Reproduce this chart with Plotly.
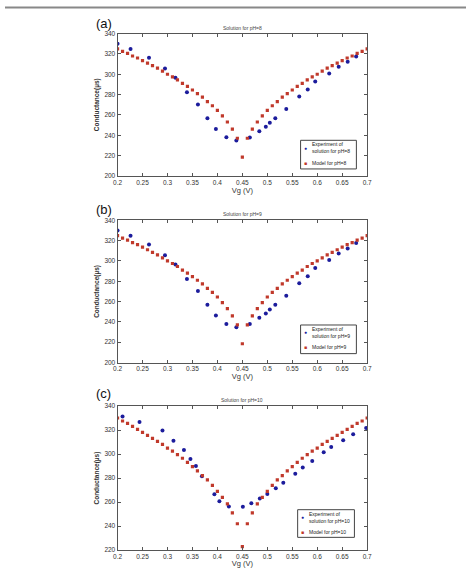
import plotly.graph_objects as go

# ---------------- data ----------------
vg_model = [0.20, 0.21, 0.22, 0.23, 0.24, 0.25, 0.26, 0.27, 0.28, 0.29,
            0.30, 0.31, 0.32, 0.33, 0.34, 0.35, 0.36, 0.37, 0.38, 0.39,
            0.40, 0.41, 0.42, 0.43, 0.44, 0.45, 0.46, 0.47, 0.48, 0.49,
            0.50, 0.51, 0.52, 0.53, 0.54, 0.55, 0.56, 0.57, 0.58, 0.59,
            0.60, 0.61, 0.62, 0.63, 0.64, 0.65, 0.66, 0.67, 0.68, 0.69, 0.70]

model_ph8 = [325, 322.5, 320.5, 318, 316, 313.5, 311, 308.5, 306, 303,
             300, 297.5, 294.5, 291, 288, 284.5, 281, 277.5, 273, 269,
             264.5, 259, 253, 246, 237, 218.5, 237, 246, 253, 259,
             264.5, 269, 273, 277.5, 281, 284.5, 288, 291, 294.5, 297.5,
             300, 303, 306, 308.5, 311, 313.5, 316, 318, 320.5, 322.5, 325]

model_ph9 = [325, 322.5, 320.5, 318, 316, 313.5, 311, 308.5, 306, 303,
             300, 297.5, 294.5, 291, 288, 284.5, 281, 277.5, 273, 269,
             264.5, 259, 253, 246, 237, 218.5, 237, 246, 253, 259,
             264.5, 269, 273, 277.5, 281, 284.5, 288, 291, 294.5, 297.5,
             300, 303, 306, 308.5, 311, 313.5, 316, 318, 320.5, 322.5, 325]

model_ph10 = [330, 327.5, 325.5, 323, 320.5, 318, 315.5, 313, 310.5, 308,
              305, 302.5, 299.5, 296.5, 293, 289.5, 286, 282, 278.5, 274,
              269, 264, 258.5, 251, 242, 223, 242, 251, 258.5, 264,
              269, 274, 278.5, 282, 286, 289.5, 293, 296.5, 299.5, 302.5,
              305, 308, 310.5, 313, 315.5, 318, 320.5, 323, 325.5, 327.5, 330]

vg_exp_89 = [0.200, 0.226, 0.263, 0.295, 0.316, 0.339, 0.361, 0.380, 0.397,
             0.418, 0.438, 0.465, 0.484, 0.497, 0.505, 0.516, 0.538, 0.564,
             0.581, 0.596, 0.624, 0.643, 0.661, 0.678]
exp_ph8 = [330, 324.8, 316.3, 305.7, 296.5, 282.3, 270.3, 256.8, 246.2,
           238, 234.8, 237.8, 244, 248.3, 252.2, 256.8, 265.8, 278,
           285, 293, 300.8, 307.4, 312.2, 317.6]
exp_ph9 = [330, 324.8, 316.3, 305.7, 296.5, 282.3, 270.3, 256.8, 246.2,
           238, 234.8, 237.8, 244, 248.3, 252.2, 256.8, 265.8, 278,
           285, 293, 300.8, 307.4, 312.2, 317.6]

vg_exp_10 = [0.210, 0.244, 0.290, 0.312, 0.333, 0.346, 0.357, 0.369, 0.394,
             0.404, 0.423, 0.451, 0.468, 0.485, 0.500, 0.517, 0.532, 0.556,
             0.571, 0.590, 0.613, 0.628, 0.652, 0.672, 0.698]
exp_ph10 = [331.2, 326.6, 319.5, 311, 303.3, 295.9, 290.1, 281.5, 266.6,
            260.8, 256.4, 256.2, 259, 263, 266.8, 271.6, 276.2, 283.6,
            288.8, 294.2, 301.4, 305.8, 311.4, 316.5, 321.6]

titles = ["Solution for pH=8", "Solution for pH=9", "Solution for pH=10"]
panel_labels = ["(a)", "(b)", "(c)"]
exp_names = ["Experiment of<br>solution for pH=8", "Experiment of<br>solution for pH=9",
             "Experiment of<br>solution for pH=10"]
model_names = ["Model for pH=8", "Model for pH=9", "Model for pH=10"]
x_ticks = [0.2, 0.25, 0.3, 0.35, 0.4, 0.45, 0.5, 0.55, 0.6, 0.65, 0.7]
y_ticks_89 = [200, 220, 240, 260, 280, 300, 320, 340]
y_ticks_10 = [220, 240, 260, 280, 300, 320, 340]

# ---------------- layout geometry ----------------
W, H = 471, 568
x_dom = [115 / W, 370 / W]
y_doms = [[1 - 174 / H, 1 - 30 / H], [1 - 363 / H, 1 - 219 / H], [1 - 553 / H, 1 - 407 / H]]
y_ranges = [[200, 340], [200, 340], [220, 340]]
y_ticks = [y_ticks_89, y_ticks_89, y_ticks_10]
# legend boxes (left, top, right, bottom) in px
leg_box = [(302, 138, 359, 167), (302, 325, 359, 354), (299, 512, 357, 540)]
label_top = [10, 198, 385]

exp_x = [vg_exp_89, vg_exp_89, vg_exp_10]
exp_y = [exp_ph8, exp_ph9, exp_ph10]
mod_y = [model_ph8, model_ph9, model_ph10]

BLUE = "#1c1c9c"
RED = "#c0392b"
AX = "#555555"


def px(x):
    return x / W


def py(y):
    return 1 - y / H


fig = go.Figure()
layout = dict(
    width=W, height=H, margin=dict(l=0, r=0, t=0, b=0),
    paper_bgcolor="white", plot_bgcolor="white",
    font=dict(family="Liberation Sans, Arial, sans-serif", color="#333333"),
    showlegend=False,
)
annotations = []
shapes = [dict(type="line", xref="paper", yref="paper", x0=0, x1=1,
               y0=py(3.5), y1=py(3.5), line=dict(color="#888888", width=2))]

for i in range(3):
    sfx = "" if i == 0 else str(i + 1)
    fig.add_trace(go.Scatter(
        x=exp_x[i], y=exp_y[i], mode="markers", name=exp_names[i],
        marker=dict(symbol="circle", size=4, color=BLUE),
        xaxis="x" + sfx, yaxis="y" + sfx))
    fig.add_trace(go.Scatter(
        x=vg_model, y=mod_y[i], mode="markers", name=model_names[i],
        marker=dict(symbol="square", size=3.2, color=RED),
        xaxis="x" + sfx, yaxis="y" + sfx))

    layout["xaxis" + sfx] = dict(
        domain=x_dom, anchor="y" + sfx, range=[0.2, 0.7], tickvals=x_ticks,
        ticktext=[("%g" % v) for v in x_ticks],
        ticks="inside", ticklen=3, tickcolor=AX, showline=True, linecolor=AX,
        linewidth=1, mirror="ticks", showgrid=False, zeroline=False,
        tickfont=dict(size=6.5, color="#333333"),
        title=dict(text="Vg (V)", font=dict(size=7.5, color="#333333"), standoff=0))
    layout["yaxis" + sfx] = dict(
        domain=y_doms[i], anchor="x" + sfx, range=y_ranges[i], tickvals=y_ticks[i],
        ticks="inside", ticklen=3, tickcolor=AX, showline=True, linecolor=AX,
        linewidth=1, mirror="ticks", showgrid=False, zeroline=False,
        tickfont=dict(size=6.5, color="#333333"),
        title=dict(text="<b>Conductance(µs)</b>", font=dict(size=6.5, color="#333333"), standoff=4))

    # legend box drawn by hand (compact, like the original)
    L, T, R, B = leg_box[i]
    shapes.append(dict(type="rect", xref="paper", yref="paper",
                       x0=px(L), x1=px(R), y0=py(B), y1=py(T),
                       line=dict(color="#444444", width=1), fillcolor="white", layer="above"))
    annotations += [
        dict(text="●", xref="paper", yref="paper", x=px(L + 5), y=py(T + 7.5),
             xanchor="center", yanchor="middle", showarrow=False,
             font=dict(size=5, color=BLUE)),
        dict(text=exp_names[i], xref="paper", yref="paper", x=px(L + 10), y=py(T + 7.5),
             xanchor="left", yanchor="middle", align="left", showarrow=False,
             font=dict(size=5, color="#222222")),
        dict(text="■", xref="paper", yref="paper", x=px(L + 5), y=py(T + 22.5),
             xanchor="center", yanchor="middle", showarrow=False,
             font=dict(size=5, color=RED)),
        dict(text=model_names[i], xref="paper", yref="paper", x=px(L + 10), y=py(T + 22.5),
             xanchor="left", yanchor="middle", align="left", showarrow=False,
             font=dict(size=5, color="#222222")),
    ]
    annotations.append(dict(
        text=titles[i], xref="paper", yref="paper", x=sum(x_dom) / 2,
        y=y_doms[i][1], yanchor="bottom", showarrow=False, yshift=1,
        font=dict(size=5, color="#444444")))
    annotations.append(dict(
        text=panel_labels[i], xref="paper", yref="paper", x=px(91),
        y=py(label_top[i]), xanchor="left", yanchor="top", showarrow=False,
        font=dict(size=13, color="#111111")))

layout["annotations"] = annotations
layout["shapes"] = shapes
fig.update_layout(**layout)
fig.write_html("out.html")
